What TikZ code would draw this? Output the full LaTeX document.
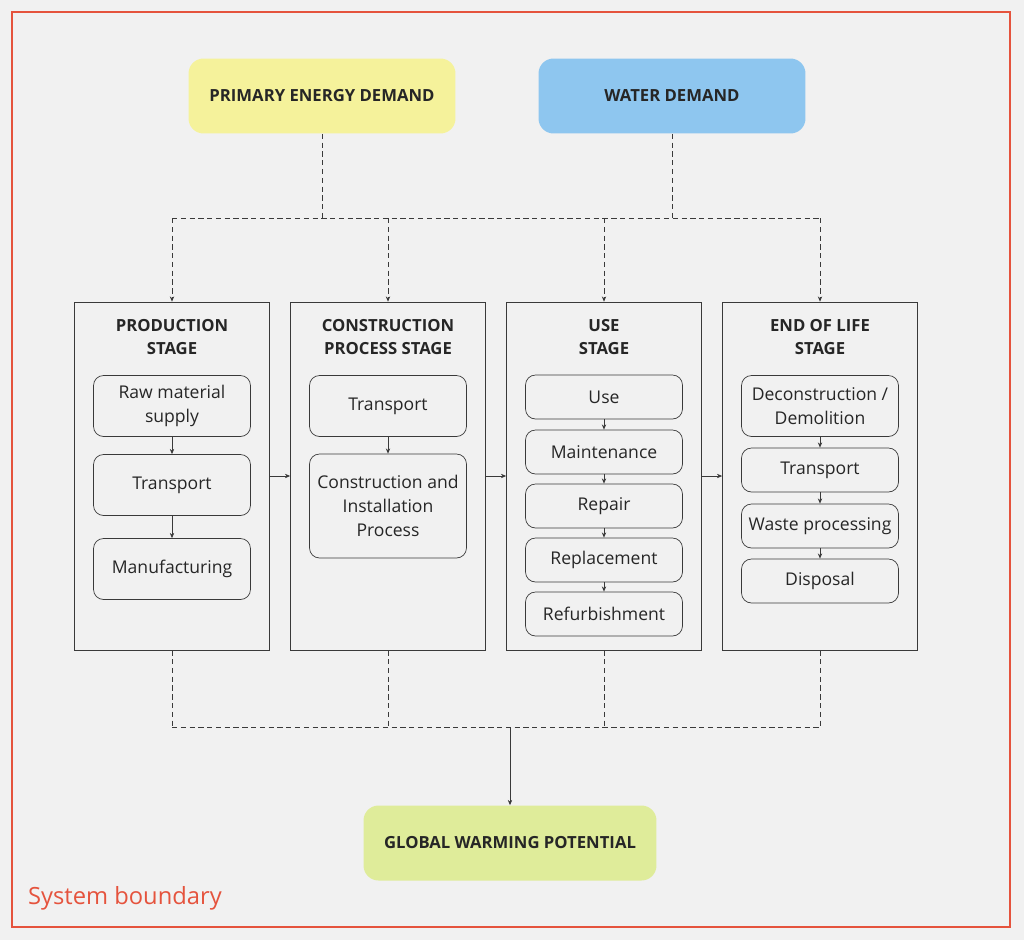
\documentclass[tikz,border=0pt]{standalone}
\usepackage{fontspec}
\setmainfont{Open Sans}
\usetikzlibrary{arrows.meta, positioning}
\definecolor{bgGray}{HTML}{F1F1F1}
\definecolor{lineGray}{HTML}{3A3A3A}
\definecolor{boundRed}{HTML}{E5533D}
\definecolor{energyYellow}{HTML}{F5F29B}
\definecolor{waterBlue}{HTML}{8EC6EF}
\definecolor{gwpGreen}{HTML}{DFEC9A}
\tikzset{
    demand/.style={rounded corners=0.3cm, minimum width=5.34cm, minimum height=1.5cm, font=\bfseries\fontsize{9.5}{11}\selectfont, text=black!85},
    stage/.style={draw=lineGray, fill=bgGray, minimum width=3.9cm, minimum height=6.96cm},
    heading/.style={align=center, font=\bfseries\fontsize{9.5}{13.6}\selectfont, text=black!85},
    phase/.style={draw=lineGray, rounded corners=0.2cm, minimum width=3.14cm, align=center, font=\fontsize{10}{13.6}\selectfont, text=black!85},
    flow/.style={-{Stealth[length=3pt,width=2.5pt]}, lineGray, line width=0.4pt},
    feed/.style={densely dashed, lineGray, line width=0.4pt},
}
\begin{document}
\begin{tikzpicture}[x=0.02cm, y=-0.02cm]
    \fill[bgGray] (0,0) rectangle (1024,940);
    \useasboundingbox (0,0) rectangle (1024,940);
    % System boundary
    \draw[boundRed, line width=0.9pt] (12,12) rectangle (1010,927);
    \node[anchor=west, text=boundRed, font=\fontsize{13.5}{16}\selectfont] (boundary) at (22,898) {System boundary};

    % Demands and result
    \node[demand, fill=energyYellow] (energy) at (322,96) {PRIMARY ENERGY DEMAND};
    \node[demand, fill=waterBlue] (water) at (672,96) {WATER DEMAND};
    \node[demand, fill=gwpGreen, minimum width=5.86cm] (gwp) at (510,843) {GLOBAL WARMING POTENTIAL};

    % Stages
    \node[stage] (prod) at (172,476) {};
    \node[stage] (cons) at (388,476) {};
    \node[stage] (use) at (604,476) {};
    \node[stage] (eol) at (820,476) {};
    \node[heading] at (172,337) {PRODUCTION\\STAGE};
    \node[heading] at (388,337) {CONSTRUCTION\\PROCESS STAGE};
    \node[heading] at (604,337) {USE\\STAGE};
    \node[heading] at (820,337) {END OF LIFE\\STAGE};

    % Production phases
    \node[phase, minimum height=1.22cm] (raw) at (172,406) {Raw material\\supply};
    \node[phase, minimum height=1.22cm] (ptrans) at (172,485) {Transport};
    \node[phase, minimum height=1.22cm] (manu) at (172,569) {Manufacturing};
    % Construction phases
    \node[phase, minimum height=1.22cm] (ctrans) at (388,406) {Transport};
    \node[phase, minimum height=2.08cm] (install) at (388,506) {Construction and\\Installation\\Process};
    % Use phases
    \node[phase, minimum height=0.88cm] (usage) at (604,397) {Use};
    \node[phase, minimum height=0.88cm] (maint) at (604,452) {Maintenance};
    \node[phase, minimum height=0.88cm] (repair) at (604,506) {Repair};
    \node[phase, minimum height=0.88cm] (replace) at (604,560) {Replacement};
    \node[phase, minimum height=0.88cm] (refurb) at (604,614) {Refurbishment};
    % End of life phases
    \node[phase, minimum height=1.22cm] (demol) at (820,406) {Deconstruction /\\Demolition};
    \node[phase, minimum height=0.88cm] (etrans) at (820,470) {Transport};
    \node[phase, minimum height=0.88cm] (waste) at (820,526) {Waste processing};
    \node[phase, minimum height=0.88cm] (dispose) at (820,581) {Disposal};

    \draw[flow] (raw) -- (ptrans);
    \draw[flow] (ptrans) -- (manu);
    \draw[flow] (ctrans) -- (install);
    \draw[flow] (usage) -- (maint);
    \draw[flow] (maint) -- (repair);
    \draw[flow] (repair) -- (replace);
    \draw[flow] (replace) -- (refurb);
    \draw[flow] (demol) -- (etrans);
    \draw[flow] (etrans) -- (waste);
    \draw[flow] (waste) -- (dispose);

    \draw[flow] (prod) -- (cons);
    \draw[flow] (cons) -- (use);
    \draw[flow] (use) -- (eol);

    % Inputs
    \coordinate (inL) at (172,218);
    \coordinate (inR) at (820,218);
    \draw[feed] (energy) -- (energy.south |- inL);
    \draw[feed] (water) -- (water.south |- inL);
    \draw[feed] (inL) -- (inR);
    \foreach \s in {prod, cons, use, eol}
        \draw[feed, -{Stealth[length=3pt,width=2.5pt]}] (\s.north |- inL) -- (\s.north);

    % Outputs
    \coordinate (outL) at (172,727);
    \coordinate (outR) at (820,727);
    \foreach \s in {prod, cons, use, eol}
        \draw[feed] (\s.south) -- (\s.south |- outL);
    \draw[feed] (outL) -- (outR);
    \draw[flow] (gwp.north |- outL) -- (gwp.north);
\end{tikzpicture}
\end{document}
